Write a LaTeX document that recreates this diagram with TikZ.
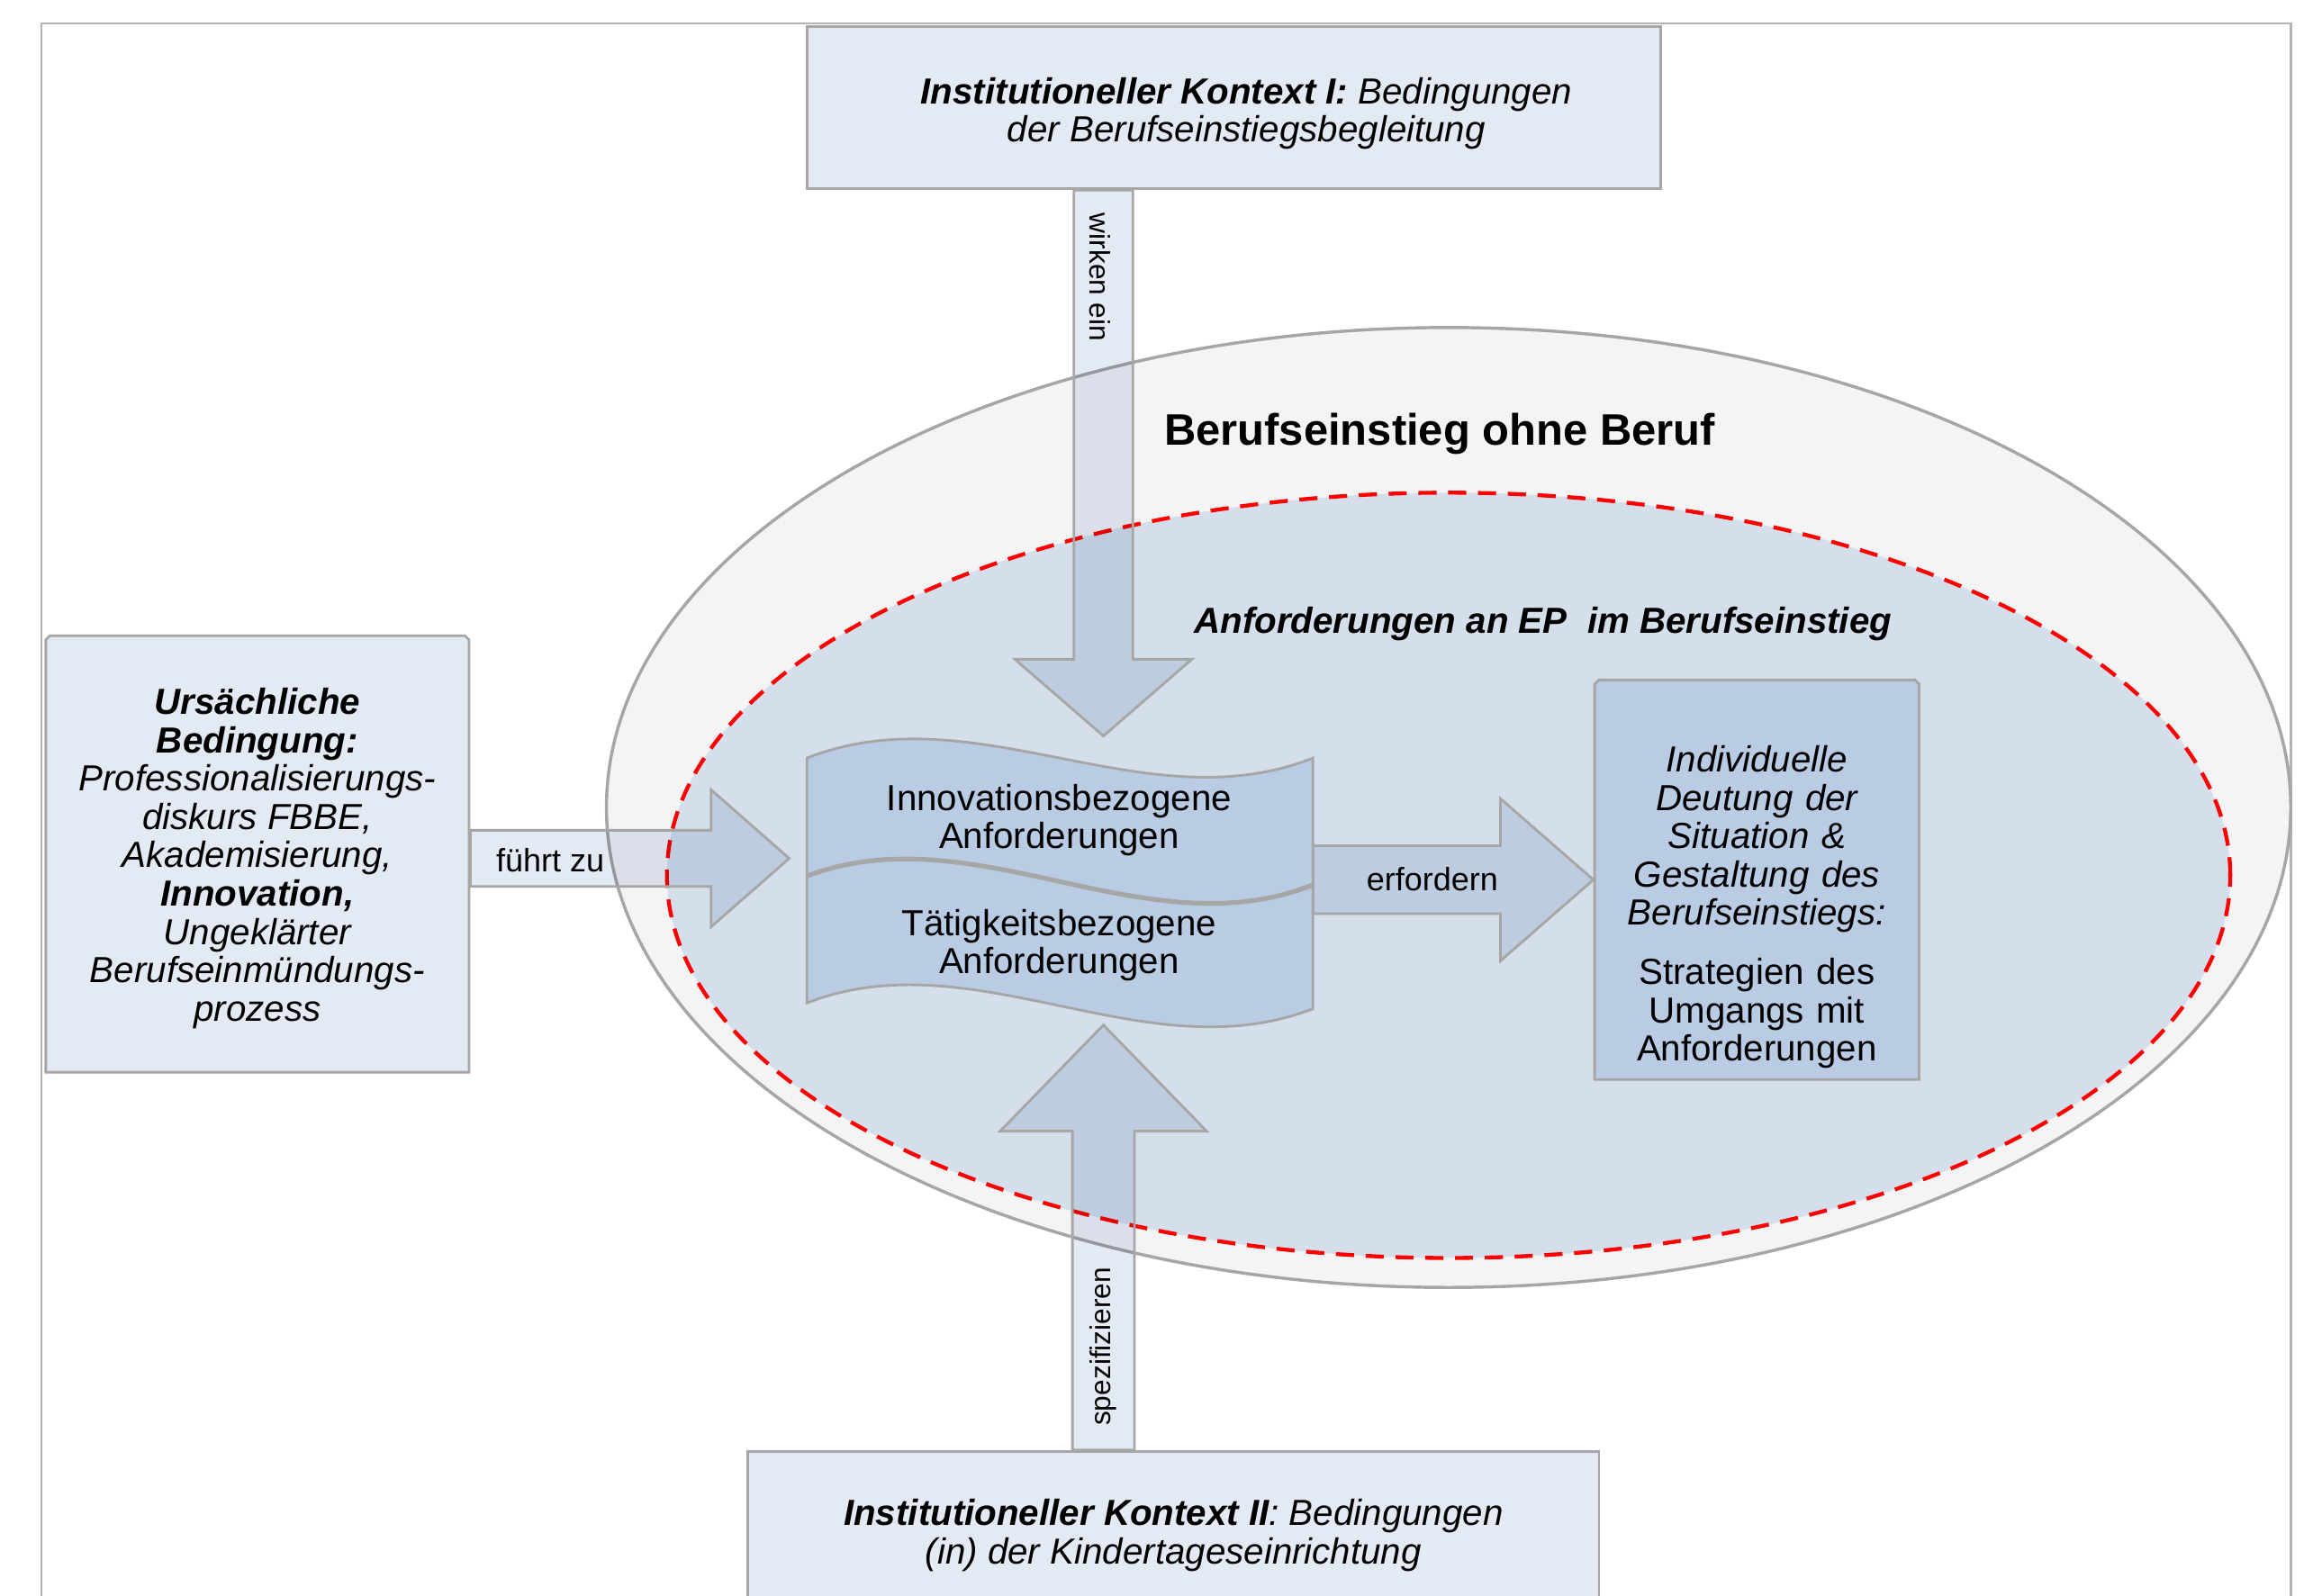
\documentclass[tikz,border=0pt]{standalone}
\usepackage{fontspec}
\setmainfont{Liberation Sans}
\usetikzlibrary{calc,shapes.misc,shapes.geometric}

\definecolor{boxlight}{HTML}{E4EAF4}
\definecolor{boxdark}{HTML}{B9CCE4}
\definecolor{ringfill}{HTML}{F4F4F4}
\definecolor{corefill}{HTML}{D5DFEB}
\definecolor{edgegrey}{HTML}{A6A6A6}
\definecolor{framegrey}{HTML}{B4B4B4}

\tikzset{
  ctxbox/.style={rectangle, draw=edgegrey, line width=1pt, fill=boxlight},
  ctxtext/.style={align=center, inner sep=0pt, font=\itshape\fontsize{14}{14.8}\selectfont},
  snipbox/.style={chamfered rectangle, chamfered rectangle corners={north west,north east},
    chamfered rectangle xsep=1.6pt, draw=edgegrey, line width=1pt, inner xsep=0pt},
  blockarrow/.style={draw=edgegrey, line width=1pt, preaction={fill=boxlight, blend mode=multiply}},
  arrowlabel/.style={inner sep=0pt, font=\fontsize{12.5}{14}\selectfont},
  wavetext/.style={align=center, inner sep=0pt, font=\fontsize{14}{14.8}\selectfont}
}

\begin{document}
\begin{tikzpicture}[x=0.02cm,y=-0.02cm]
\useasboundingbox (0,0) rectangle (1568,1082);
\clip (0,0) rectangle (1568,1082);

%Frame
\draw[framegrey, line width=0.8pt] (28,1100) |- (1553,16) -- (1553,1100);

%Berufseinstieg ohne Beruf
\node[ellipse, draw=edgegrey, line width=1.2pt, fill=ringfill, inner sep=0pt,
  minimum width=22.84cm, minimum height=13.02cm] (field) at (982,547.5) {};
\node[font=\bfseries\fontsize{17}{20}\selectfont] (fieldtitle) at (976,294) {Berufseinstieg ohne Beruf};

%Anforderungen
\node[ellipse, draw=red, line width=1.5pt, dash pattern=on 7pt off 4.5pt, fill=corefill, inner sep=0pt,
  minimum width=21.2cm, minimum height=10.38cm] (demands) at (982,593.5) {};
\node[font=\bfseries\itshape\fontsize{14}{17}\selectfont] (demandstitle) at (1046,423) {Anforderungen an EP\ \ im Berufseinstieg};

%Wave block
\filldraw[draw=edgegrey, line width=1pt, fill=boxdark] (547,514) .. controls (661,469) and (776,559) .. (890,514)
  -- (890,684) .. controls (776,728) and (661,636) .. (547,680) -- cycle;
\draw[edgegrey, line width=1.8pt] (547,594) .. controls (661,551) and (776,645) .. (890,600);
\node[wavetext] (inno) at (718,556) {Innovationsbezogene\\Anforderungen};
\node[wavetext] (task) at (718,641) {Tätigkeitsbezogene\\Anforderungen};
\coordinate (demR) at (890,596.5);

%Individuelle Deutung
\node[snipbox, fill=boxdark, minimum width=4.4cm, minimum height=5.42cm] (goal) at (1191,596.5) {};
\node[wavetext, text width=4.2cm] (goaltext) at (1191,615) {\itshape Individuelle\\Deutung der\\Situation \&\\Gestaltung des\\Berufseinstiegs:\\[8pt]\upshape Strategien des\\Umgangs mit\\Anforderungen};

%Context I
\node[ctxbox, minimum width=11.58cm, minimum height=2.2cm] (ctxone) at (836.5,73) {};
\node[ctxtext, xshift=0.17cm, yshift=-0.08cm] (ctxonetext) at (ctxone)
  {\textbf{Institutioneller Kontext I:} Bedingungen\\der Berufseinstiegsbegleitung};

%Context II
\node[ctxbox, minimum width=11.54cm, minimum height=2.2cm] (ctxtwo) at (795.5,1039) {};
\node[ctxtext, yshift=-0.04cm] (ctxtwotext) at (ctxtwo)
  {\textbf{Institutioneller Kontext II}: Bedingungen\\(in) der Kindertageseinrichtung};

%Ursaechliche Bedingung
\node[snipbox, fill=boxlight, minimum width=5.74cm, minimum height=5.92cm] (cause) at (174.5,579) {};
\node[ctxtext, yshift=-0.06cm] (causetext) at (cause)
  {\textbf{Ursächliche}\\\textbf{Bedingung:}\\Professionalisierungs-\\diskurs FBBE,\\Akademisierung,\\\textbf{Innovation,}\\Ungeklärter\\Berufseinmündungs-\\prozess};

%Arrow tips
\coordinate (t1) at (748,499);
\coordinate (t2) at (535,582);
\coordinate (t4) at (748,695);

%Block arrows
\draw[blockarrow] ($(t1 |- ctxone.south)+(-20,0)$) |- ($(t1)+(-60,-52)$) -- (t1)
  -- ($(t1)+(60,-52)$) -| ($(t1 |- ctxone.south)+(20,0)$) -- cycle;
\draw[blockarrow] ($(cause.east |- t2)+(0,-19)$) -| ($(t2)+(-53,-46.5)$) -- (t2)
  -- ($(t2)+(-53,46.5)$) |- ($(cause.east |- t2)+(0,19)$) -- cycle;
\draw[blockarrow] ($(demR)+(0,-23)$) -| ($(goal.west)+(-63,-55)$) -- (goal.west)
  -- ($(goal.west)+(-63,55)$) |- ($(demR)+(0,23)$) -- cycle;
\draw[blockarrow] ($(t4 |- ctxtwo.north)+(-21,0)$) |- ($(t4)+(-70,72)$) -- (t4)
  -- ($(t4)+(70,72)$) -| ($(t4 |- ctxtwo.north)+(21,0)$) -- cycle;

%Arrow labels
\node[arrowlabel, rotate=-90, font=\fontsize{11}{13}\selectfont] (lblwirken) at (746,188) {wirken ein};
\node[arrowlabel] (lblfuehrt) at (373,583) {führt zu};
\node[arrowlabel] (lblerfordern) at (971,596) {erfordern};
\node[arrowlabel, rotate=90, font=\fontsize{11}{13}\selectfont] (lblspez) at (748,913) {spezifizieren};
\end{tikzpicture}
\end{document}
